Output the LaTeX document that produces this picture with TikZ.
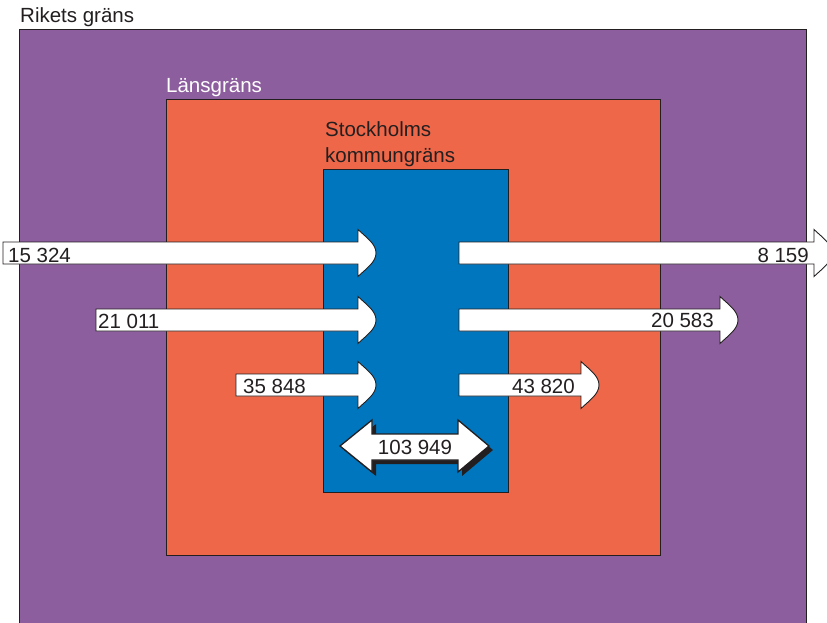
\documentclass[tikz,border=0pt]{standalone}
\usepackage{fontspec}
\setmainfont{Liberation Sans}
\definecolor{rike}{RGB}{141,94,158}
\definecolor{lan}{RGB}{238,103,73}
\definecolor{sthlm}{RGB}{0,118,191}
\definecolor{ink}{RGB}{35,31,32}
\tikzset{
  box/.style={draw=ink, line width=1pt},
  flow/.style={draw=ink, fill=white, line width=0.9pt, line join=miter},
  num/.style={font=\fontsize{20.5}{25}\selectfont, text=ink, inner sep=0pt},
}
% x-start, x of head back, y of centre
\newcommand\rflow[3]{%
  \draw[flow] (#1,#3-11) -- (#2,#3-11) -- (#2,#3-23.5)
    .. controls (#2+9,#3-15) and (#2+18,#3-9) .. (#2+18,#3)
    .. controls (#2+18,#3+9) and (#2+9,#3+15) .. (#2,#3+23.5)
    -- (#2,#3+11) -- (#1,#3+11) -- cycle;}
\newcommand\dflowpath{(340,446) -- (372,420) -- (372,434) -- (458,434) -- (458,420) -- (489,446) -- (458,472) -- (458,460) -- (372,460) -- (372,472) -- cycle}
\begin{document}
\begin{tikzpicture}[x=1pt,y=-1pt]
\useasboundingbox (0,0) rectangle (827,623);
\clip (0,0) rectangle (827,623);
\fill[white] (0,0) rectangle (827,623);
% regions
\draw[box, fill=rike] (19.5,30) rectangle (806,630);
\draw[box, fill=lan] (166,100) rectangle (660,555.5);
\draw[box, fill=sthlm] (323,169) rectangle (508,492);
% flows in
\rflow{3}{358}{253}
\rflow{96}{358}{320}
\rflow{236}{358}{385}
% flows out
\rflow{459}{814}{253}
\rflow{459}{720}{320}
\rflow{459}{581}{385}
% internal double arrow
\begin{scope}[shift={(4,4)}]
  \fill[ink] \dflowpath;
\end{scope}
\draw[flow, line width=1.3pt] \dflowpath;
% labels
\node[num, anchor=base west] (rikets) at (20,23) {Rikets gräns};
\node[num, anchor=base west, text=white] (lans) at (166,93) {Länsgräns};
\node[num, anchor=base west] (sthlm1) at (325,137) {Stockholms};
\node[num, anchor=base west] (sthlm2) at (325,162) {kommungräns};
\node[num, anchor=base west] (n15324) at (8,262) {15 324};
\node[num, anchor=base west] (n21011) at (98,328) {21 011};
\node[num, anchor=base west] (n35848) at (243,393) {35 848};
\node[num, anchor=base east] (n8159) at (809,262) {8 159};
\node[num, anchor=base east] (n20583) at (714,327) {20 583};
\node[num, anchor=base east] (n43820) at (575,393) {43 820};
\node[num, anchor=base] (n103949) at (415,454) {103 949};
\end{tikzpicture}
\end{document}
